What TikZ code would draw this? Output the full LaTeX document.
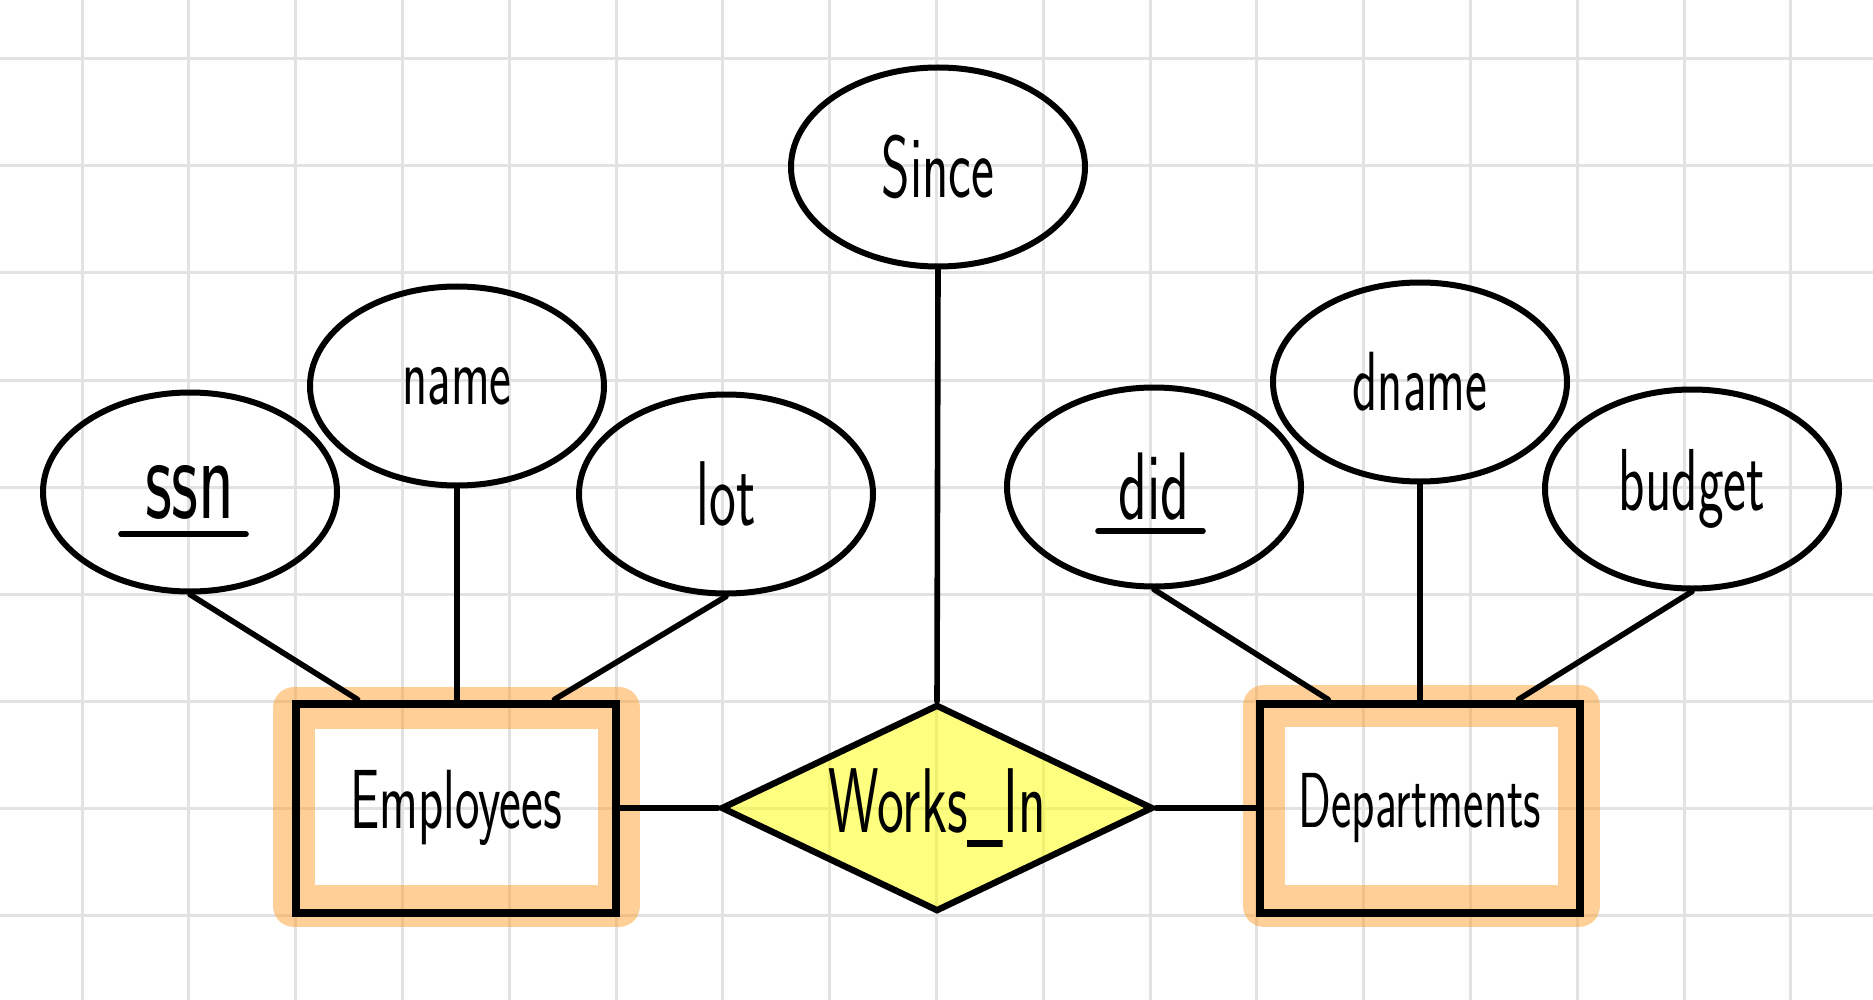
\documentclass[tikz,border=0pt]{standalone}
\usepackage{tikz}
\usepackage{graphicx}
\usepackage{xcolor}
\usetikzlibrary{shapes,
	calc}
\definecolor{hlorange}{RGB}{255,160,50}
\definecolor{hlyellow}{RGB}{255,255,0}
\definecolor{gridgray}{RGB}{226,226,226}
\newcommand{\hw}[2][40]{{\fontsize{#1}{#1}\selectfont\scalebox{0.62}[1]{#2}}}
\tikzstyle{attr}=[draw, ellipse, line width=3pt, minimum width=147pt,
		minimum height=99.5pt, inner sep=0, font=\sffamily]
\tikzstyle{ent}=[draw, line width=4pt, minimum width=160pt,
		minimum height=104.5pt, inner sep=0, font=\sffamily]
\tikzstyle{rel}=[draw, diamond, aspect=2.1, line width=3.2pt, fill=hlyellow,
		fill opacity=0.5, text opacity=1, minimum width=216pt,
		minimum height=103.5pt, inner sep=0, font=\sffamily]
\tikzstyle{hl}=[draw=hlorange, draw opacity=0.5, line width=21pt, line join=round]
\tikzstyle{conn}=[draw, line width=2.8pt, line cap=round]
\tikzstyle{uline}=[draw, line width=2.8pt, line cap=round]
\tikzstyle{gridline}=[draw=gridgray, line width=1.5pt]

\begin{document}
\begin{tikzpicture}[x=0.5pt, y=-0.5pt]
            \useasboundingbox[fill=white] (0,0) rectangle (1873,1000);
            % paper grid
            \foreach \i in {0,...,16}
                \draw[gridline] (82+106.8*\i,0) -- (82+106.8*\i,1000);
            \foreach \j in {0,...,8}
                \draw[gridline] (0,59+107*\j) -- (1873,59+107*\j);
            % highlighter round the entities
            \draw[hl] (294,708) rectangle (619,906);
            \draw[hl] (1264,706) rectangle (1579,906);
            % entities and relationship
            \node[ent] (emp) at (456,808) {\hw[42]{Employees}};
            \node[rel] (works) at (937,808) {\hw[46]{Works\_In}};
            \node[ent] (dep) at (1420,808) {\hw[39]{Departments}};
            % attributes
            \node[attr] (ssn) at (190,492) {\hw[60]{ssn}};
            \node[attr] (name) at (457,386) {\hw[42]{name}};
            \node[attr] (lot) at (726,494) {\hw[46]{lot}};
            \node[attr] (since) at (938,167) {\hw[44]{Since}};
            \node[attr] (did) at (1154,487) {\hw[48]{did}};
            \node[attr] (dname) at (1420,382) {\hw[42]{dname}};
            \node[attr] (budget) at (1692,489) {\hw[44]{budget}};
            % keys
            \draw[uline] ($(ssn.center)+(-69,42)$) -- ($(ssn.center)+(56,42)$);
            \draw[uline] ($(did.center)+(-56,44)$) -- ($(did.center)+(49,44)$);
            % connectors
            \draw[conn] (ssn.south) -- ($(emp.north west)!0.2!(emp.north east)$);
            \draw[conn] (name.south) -- (name.south |- emp.north);
            \draw[conn] (lot.south) -- ($(emp.north west)!0.8!(emp.north east)$);
            \draw[conn] (since.south) -- (works.north);
            \draw[conn] (did.south) -- ($(dep.north west)!0.22!(dep.north east)$);
            \draw[conn] (dname.south) -- (dname.south |- dep.north);
            \draw[conn] (budget.south) -- ($(dep.north west)!0.8!(dep.north east)$);
            \draw[conn] (emp.east) -- (works.west);
            \draw[conn] (works.east) -- (dep.west);
\end{tikzpicture}
\end{document}
